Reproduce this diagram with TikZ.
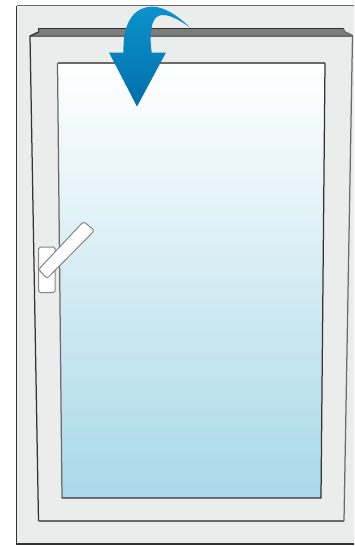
\documentclass[tikz,border=0pt]{standalone}
\definecolor{framegrey}{HTML}{EBECEC}
\definecolor{edge}{HTML}{333333}
\definecolor{softedge}{HTML}{6A6A6A}
\definecolor{handleedge}{HTML}{858585}
\definecolor{stripgrey}{HTML}{7D7D7D}
\definecolor{glassbottom}{HTML}{A8D9E8}
\definecolor{arrowtop}{HTML}{0B92CB}
\definecolor{arrowbottom}{HTML}{006FAB}
\tikzset{
  x=1pt,y=-1pt,
  line join=miter,
  panel/.style={fill=framegrey},
  darkline/.style={draw=edge,line width=1.25pt},
  softline/.style={draw=softedge,line width=1.25pt},
  handlepart/.style={draw=handleedge,line width=1pt,fill=white,rounded corners=1.6pt},
}
\begin{document}
\begin{tikzpicture}
\useasboundingbox (0,0) rectangle (354,546);
% outer frame
\fill[panel] (16.5,6) rectangle (354,544);
\draw[softline] (354,5.8) -- (16.5,5.8);
\draw[darkline] (16.5,5.8) -- (16.5,544) -- (354,544);
% sash
\fill[panel] (30,36) -- (38.5,33) -- (38.5,29) -- (343.5,29) -- (344,31) -- (352.5,35.5) -- (344,521) -- (38.5,521) -- cycle;
\fill[stripgrey] (30,36) -- (38.5,32) -- (38.5,29) -- (343.5,29) -- (345,32) -- (352.5,36) -- cycle;
\draw[darkline] (38.5,32) -- (38.5,28.7) -- (343.5,28.7);
\draw[softline] (343.5,28.7) -- (344.5,31.5) -- (352.5,35.5);
\draw[softline] (30,36) -- (352.5,36);
\draw[darkline] (38.5,32) -- (30,36) -- (38.5,521);
\draw[softline] (38.5,521) -- (344,521);
\draw[softline] (352.5,36) -- (344,521);
% glass
\shade[top color=white,bottom color=glassbottom] (57.5,63) -- (325,63) -- (321,498) -- (62,498) -- cycle;
\draw[softline] (57.5,63) -- (325,63);
\draw[softline] (57.5,63) -- (62,498);
\draw[darkline] (62,498) -- (321,498) -- (325,63);
% handle
\draw[handlepart] (38.7,247) rectangle (55,292.5);
\draw[handlepart,rounded corners=2.5pt] (83.5,221.5) -- (94.5,230.5) -- (47,278.5) -- (38.5,269.5) -- cycle;
% tilt arrow
\shade[top color=arrowtop,bottom color=arrowbottom]
  (190,27.5) .. controls (176,14) and (163,6.5) .. (152,6.7)
  .. controls (133,7) and (122.5,24) .. (123.5,52.5)
  -- (109,52.5) -- (137,106.5) -- (166,52.5) -- (151.7,52.5)
  .. controls (149.5,38) and (150.5,23) .. (156,17.5)
  .. controls (163,11) and (177,18) .. (190,27.5) -- cycle;
\end{tikzpicture}
\end{document}
